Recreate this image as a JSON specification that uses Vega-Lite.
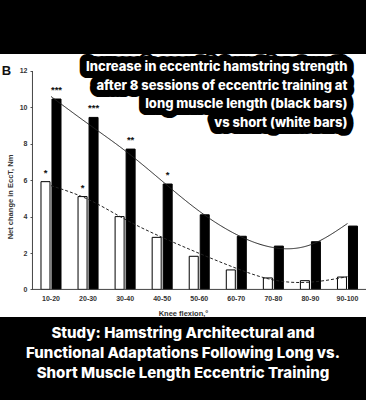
{
  "$schema": "https://vega.github.io/schema/vega-lite/v6.json",
  "autosize": "none",
  "width": 366,
  "height": 263,
  "padding": {"left": 0, "right": 0, "top": 54, "bottom": 83},
  "background": "black",
  "config": {"view": {"stroke": null, "fill": "white"}},
  "title": {
    "text": ["Study: Hamstring Architectural and", "Functional Adaptations Following Long vs.", "Short Muscle Length Eccentric Training"],
    "orient": "bottom",
    "anchor": "middle",
    "frame": "group",
    "color": "white",
    "font": "Inter",
    "fontSize": 15,
    "fontWeight": 800,
    "lineHeight": 20,
    "offset": 9
  },
  "datasets": {
    "bars": [
      {"k": "10-20", "g": "short", "v": 5.92},
      {"k": "20-30", "g": "short", "v": 5.10},
      {"k": "30-40", "g": "short", "v": 4.00},
      {"k": "40-50", "g": "short", "v": 2.86},
      {"k": "50-60", "g": "short", "v": 1.82},
      {"k": "60-70", "g": "short", "v": 1.07},
      {"k": "70-80", "g": "short", "v": 0.63},
      {"k": "80-90", "g": "short", "v": 0.48},
      {"k": "90-100", "g": "short", "v": 0.68},
      {"k": "10-20", "g": "long", "v": 10.46},
      {"k": "20-30", "g": "long", "v": 9.45},
      {"k": "30-40", "g": "long", "v": 7.71},
      {"k": "40-50", "g": "long", "v": 5.79},
      {"k": "50-60", "g": "long", "v": 4.10},
      {"k": "60-70", "g": "long", "v": 2.92},
      {"k": "70-80", "g": "long", "v": 2.38},
      {"k": "80-90", "g": "long", "v": 2.62},
      {"k": "90-100", "g": "long", "v": 3.48}
    ],
    "trend": [
      {"k": "10-20", "g": "long", "v": 10.6},
      {"k": "20-30", "g": "long", "v": 9.1},
      {"k": "30-40", "g": "long", "v": 7.62},
      {"k": "40-50", "g": "long", "v": 5.95},
      {"k": "50-60", "g": "long", "v": 4.3},
      {"k": "60-70", "g": "long", "v": 3.02},
      {"k": "70-80", "g": "long", "v": 2.3},
      {"k": "80-90", "g": "long", "v": 2.45},
      {"k": "90-100", "g": "long", "v": 3.62},
      {"k": "10-20", "g": "short", "v": 5.7},
      {"k": "20-30", "g": "short", "v": 4.95},
      {"k": "30-40", "g": "short", "v": 3.85},
      {"k": "40-50", "g": "short", "v": 2.86},
      {"k": "50-60", "g": "short", "v": 1.98},
      {"k": "60-70", "g": "short", "v": 1.16},
      {"k": "70-80", "g": "short", "v": 0.52},
      {"k": "80-90", "g": "short", "v": 0.40},
      {"k": "90-100", "g": "short", "v": 0.70}
    ],
    "stars": [
      {"k": "10-20", "g": "short", "v": 5.92, "s": "*"},
      {"k": "20-30", "g": "short", "v": 5.10, "s": "*"},
      {"k": "10-20", "g": "long", "v": 10.46, "s": "***"},
      {"k": "20-30", "g": "long", "v": 9.45, "s": "***"},
      {"k": "30-40", "g": "long", "v": 7.71, "s": "**"},
      {"k": "40-50", "g": "long", "v": 5.79, "s": "*"}
    ],
    "box": [
      {"t": ["Increase in eccentric hamstring strength", "after 8 sessions of eccentric training at", "long muscle length (black bars)", "vs short (white bars)"]}
    ]
  },
  "layer": [
    {
      "data": {"name": "bars"},
      "mark": {"type": "bar", "stroke": "black", "strokeWidth": 1},
      "encoding": {
        "x": {
          "field": "k", "type": "nominal", "sort": null,
          "scale": {"type": "band", "paddingInner": 0, "paddingOuter": 0.438, "align": 1},
          "axis": {
            "offset": -27.6, "domain": false, "ticks": false, "labelAngle": 0,
            "labelFont": "Liberation Sans", "labelFontSize": 7, "labelFontWeight": "bold", "labelColor": "#333", "labelPadding": 5,
            "title": "Knee flexion,°", "titleFont": "Liberation Sans", "titleFontSize": 7.5, "titleFontWeight": "bold", "titleColor": "#333",
            "titleY": 24, "titleBaseline": "middle"
          }
        },
        "xOffset": {"field": "g", "type": "nominal", "sort": ["short", "long"], "scale": {"paddingInner": 0.18, "paddingOuter": 0.775}},
        "y": {
          "field": "v", "type": "quantitative",
          "scale": {"domain": [-1.516, 12.934], "nice": false, "zero": false},
          "axis": {
            "values": [0, 2, 4, 6, 8, 10, 12], "offset": -32.5, "domain": false, "grid": false,
            "tickSize": 2.5, "tickColor": "#555",
            "labelFont": "Liberation Sans", "labelFontSize": 7, "labelFontWeight": "bold", "labelColor": "#333", "labelPadding": 3,
            "title": "Net change in EccT, Nm", "titleFont": "Liberation Sans", "titleFontSize": 7.5, "titleFontWeight": "bold", "titleColor": "#333",
            "titleX": -22, "titleY": 142.5, "titleBaseline": "middle", "titleAngle": -90
          }
        },
        "y2": {"datum": 0},
        "fill": {"field": "g", "type": "nominal", "scale": {"domain": ["short", "long"], "range": ["white", "black"]}, "legend": null}
      }
    },
    {
      "data": {"name": "trend"},
      "mark": {"type": "line", "interpolate": "natural", "strokeWidth": 1, "color": "#222"},
      "encoding": {
        "x": {"field": "k", "type": "nominal"},
        "y": {"field": "v", "type": "quantitative"},
        "strokeDash": {"field": "g", "type": "nominal", "scale": {"domain": ["long", "short"], "range": [[1, 0], [3, 2]]}, "legend": null}
      }
    },
    {
      "data": {"name": "stars"},
      "mark": {"type": "text", "font": "Liberation Sans", "fontSize": 9.5, "fontWeight": "bold", "baseline": "alphabetic", "dy": -6, "color": "#111"},
      "encoding": {
        "x": {"field": "k", "type": "nominal"},
        "xOffset": {"field": "g", "type": "nominal", "sort": ["short", "long"]},
        "y": {"field": "v", "type": "quantitative"},
        "text": {"field": "s"}
      }
    },
    {
      "data": {"values": [{}]},
      "mark": {"type": "rule", "color": "#444", "strokeWidth": 1},
      "encoding": {
        "x": {"datum": "10-20", "type": "nominal", "bandPosition": 0},
        "y": {"datum": 0},
        "y2": {"datum": 12}
      }
    },
    {
      "data": {"values": [{}]},
      "mark": {"type": "rule", "color": "#444", "strokeWidth": 1},
      "encoding": {
        "x": {"datum": "10-20", "type": "nominal", "bandPosition": 0},
        "x2": {"datum": "90-100", "bandPosition": 1},
        "y": {"datum": 0}
      }
    },
    {
      "data": {"values": [{"t": "B"}]},
      "mark": {"type": "text", "font": "Liberation Sans", "fontSize": 13, "fontWeight": "bold", "dx": -26, "align": "center", "baseline": "middle", "color": "#111"},
      "encoding": {
        "x": {"datum": "10-20", "type": "nominal", "bandPosition": 0},
        "y": {"datum": 12},
        "text": {"field": "t"}
      }
    },
    {
      "data": {"name": "box"},
      "mark": {"type": "text", "font": "Inter", "fontSize": 13, "fontWeight": 800, "align": "right", "baseline": "alphabetic", "lineHeight": 18.9, "fill": "black", "stroke": "black", "strokeWidth": 14, "strokeJoin": "round"},
      "encoding": {
        "x": {"datum": "90-100", "type": "nominal"},
        "y": {"datum": 12.02},
        "text": {"field": "t"}
      }
    },
    {
      "data": {"name": "box"},
      "mark": {"type": "text", "font": "Inter", "fontSize": 13, "fontWeight": 800, "align": "right", "baseline": "alphabetic", "lineHeight": 18.9, "fill": "white"},
      "encoding": {
        "x": {"datum": "90-100", "type": "nominal"},
        "y": {"datum": 12.02},
        "text": {"field": "t"}
      }
    }
  ]
}
